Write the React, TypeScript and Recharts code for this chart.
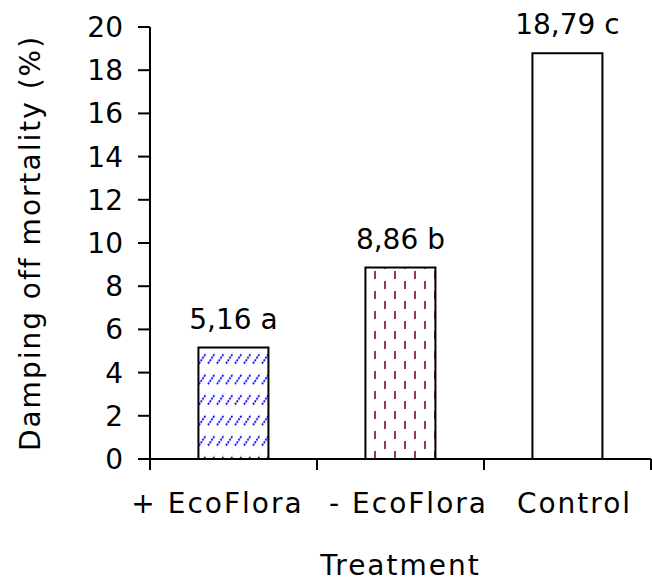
import React from 'react';
import { BarChart, Bar, XAxis, YAxis, LabelList, Cell } from 'recharts';

const categories = ['+ EcoFlora', '- EcoFlora', 'Control'];
const mortality = [5.16, 8.86, 18.79];
const letters = ['a', 'b', 'c'];
const valueLabels = ['5,16 a', '8,86 b', '18,79 c'];
const yTicks = [0, 2, 4, 6, 8, 10, 12, 14, 16, 18, 20];
const fills = ['url(#hatchBlue)', 'url(#dashMagenta)', '#ffffff'];

const data = categories.map((name, i) => ({
  name,
  value: mortality[i],
  letter: letters[i],
  label: valueLabels[i],
}));

const FONT = '"DejaVu Sans", Verdana, sans-serif';
const TICK_LABEL_SHIFT = [-16, 8, 7];

function CategoryTick(props: any) {
  const { x, y, payload, index, visibleTicksCount } = props;
  const half = payload && payload.offset ? payload.offset : 0;
  const isLast = index === (visibleTicksCount ?? categories.length) - 1;
  return (
    <g>
      <line x1={x - half} y1={y} x2={x - half} y2={y + 11} stroke="#000" strokeWidth={2} />
      {isLast && <line x1={x + half} y1={y} x2={x + half} y2={y + 11} stroke="#000" strokeWidth={2} />}
      <text
        x={x + (TICK_LABEL_SHIFT[index] ?? 0)}
        y={y + 34}
        dy="0.71em"
        textAnchor="middle"
        fontSize={28}
        fontFamily={FONT}
        letterSpacing={2}
        fill="#000"
      >
        {payload.value}
      </text>
    </g>
  );
}

export default function App() {
  return (
    <div style={{ position: 'absolute', left: 0, top: 0, width: 652, height: 582, background: '#fff' }}>
      <BarChart
        width={652}
        height={582}
        data={data}
        margin={{ top: 27, right: 1, bottom: 0, left: 0 }}
        barCategoryGap="29%"
      >
        <defs>
          <pattern id="hatchBlue" patternUnits="userSpaceOnUse" width="9" height="20.5">
            <rect x="0" y="0" width="9" height="20.5" fill="#ffffff" />
            <line x1="1" y1="15" x2="8" y2="5" stroke="#0000ff" strokeWidth="1.8" strokeDasharray="2 1" />
          </pattern>
          <pattern id="dashMagenta" patternUnits="userSpaceOnUse" width="20" height="20">
            <rect x="0" y="0" width="20" height="20" fill="#ffffff" />
            <line x1="5" y1="1" x2="5" y2="9" stroke="#993366" strokeWidth="2" />
            <line x1="15" y1="11" x2="15" y2="19" stroke="#993366" strokeWidth="2" />
          </pattern>
        </defs>
        <XAxis
          dataKey="name"
          height={123}
          axisLine={{ stroke: '#000', strokeWidth: 2 }}
          tickLine={false}
          tickSize={0}
          tickMargin={0}
          interval={0}
          tick={<CategoryTick />}
          label={{
            value: 'Treatment',
            position: 'insideBottom',
            offset: 7,
            style: { fontSize: 28, fontFamily: FONT, fill: '#000', letterSpacing: 2 },
          }}
        />
        <YAxis
          width={150}
          domain={[0, 20]}
          ticks={yTicks}
          interval={0}
          tickSize={12}
          tickMargin={15}
          axisLine={{ stroke: '#000', strokeWidth: 2 }}
          tickLine={{ stroke: '#000', strokeWidth: 2 }}
          tick={{ fontSize: 28, fontFamily: FONT, fill: '#000' }}
          label={{
            value: 'Damping off mortality (%)',
            angle: -90,
            position: 'center',
            dx: -45,
            style: { fontSize: 28, fontFamily: FONT, fill: '#000', letterSpacing: 2, textAnchor: 'middle' },
          }}
        />
        <Bar dataKey="value" stroke="#000" strokeWidth={2} isAnimationActive={false}>
          {data.map((d, i) => (
            <Cell key={d.name} fill={fills[i]} />
          ))}
          <LabelList
            dataKey="label"
            position="top"
            offset={19}
            style={{ fontSize: 28, fontFamily: FONT, fill: '#000' }}
          />
        </Bar>
      </BarChart>
    </div>
  );
}
